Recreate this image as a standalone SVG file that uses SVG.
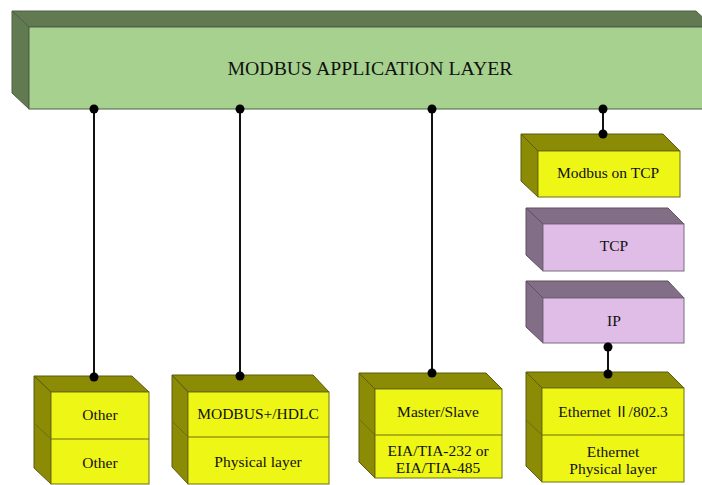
<svg xmlns="http://www.w3.org/2000/svg" width="702" height="485" viewBox="0 0 702 485">
  <style>
    .gf { fill: #a7d18e; stroke: #4f5f45; stroke-width: 1; }
    .gd { fill: #627a52; stroke: #4f5f45; stroke-width: 1; }
    .yf { fill: #eef615; stroke: #6f6f10; stroke-width: 1; }
    .yd { fill: #8b8b05; stroke: #5a5a10; stroke-width: 1; }
    .pf { fill: #dfbde6; stroke: #7a6a7e; stroke-width: 1; }
    .pd { fill: #836e87; stroke: #5e5061; stroke-width: 1; }
    .div { stroke: #6f6f10; stroke-width: 1; fill: none; }
    .lbl { font-family: "Liberation Serif", "Times New Roman", serif; font-size: 15.5px; fill: #111; text-anchor: middle; }
    .ttl { font-family: "Liberation Serif", "Times New Roman", serif; font-size: 18.5px; fill: #111; text-anchor: middle; }
    .cjk { font-family: "Noto Sans CJK SC", sans-serif; font-size: 14px; }
    .wire { stroke: #111; stroke-width: 2; fill: none; }
    .dot { fill: #000; }
  </style>
  <rect width="702" height="485" fill="#ffffff"/>

  <!-- application layer slab -->
  <g id="app-layer">
    <polygon class="gd" points="12,11 696,11 713,27 29,27"/>
    <polygon class="gd" points="12,11 29,27 29,109 12,93"/>
    <rect class="gf" x="29" y="27" width="684" height="82"/>
    <text class="ttl" x="370" y="75" textLength="285" lengthAdjust="spacingAndGlyphs">MODBUS APPLICATION LAYER</text>
  </g>

  <!-- Other / Other -->
  <g id="other-stack">
    <polygon class="yd" points="34,376 132,376 149,392 51,392"/>
    <polygon class="yd" points="34,376 51,392 51,484 34,468"/>
    <rect class="yf" x="51" y="392" width="98" height="92"/>
    <line class="div" x1="51" y1="439" x2="149" y2="439"/>
    <line class="div" x1="34" y1="423" x2="51" y2="439"/>
    <text class="lbl" x="100" y="420">Other</text>
    <text class="lbl" x="100" y="468">Other</text>
  </g>

  <!-- MODBUS+ / HDLC -->
  <g id="hdlc-stack">
    <polygon class="yd" points="172,375 313,375 329,392 188,392"/>
    <polygon class="yd" points="172,375 188,392 188,484 172,467"/>
    <rect class="yf" x="188" y="392" width="141" height="92"/>
    <line class="div" x1="188" y1="437" x2="329" y2="437"/>
    <line class="div" x1="172" y1="421" x2="188" y2="437"/>
    <text class="lbl" x="258" y="419">MODBUS+/HDLC</text>
    <text class="lbl" x="258" y="467">Physical layer</text>
  </g>

  <!-- Master/Slave serial -->
  <g id="serial-stack">
    <polygon class="yd" points="359,373 486,373 502,389 375,389"/>
    <polygon class="yd" points="359,373 375,389 375,478 359,462"/>
    <rect class="yf" x="375" y="389" width="127" height="89"/>
    <line class="div" x1="375" y1="435" x2="502" y2="435"/>
    <line class="div" x1="359" y1="419" x2="375" y2="435"/>
    <text class="lbl" x="438" y="417">Master/Slave</text>
    <text class="lbl" x="438" y="456">EIA/TIA-232 or</text>
    <text class="lbl" x="438" y="473">EIA/TIA-485</text>
  </g>

  <!-- Modbus on TCP -->
  <g id="modbus-tcp">
    <polygon class="yd" points="521,134 663,134 680,151 538,151"/>
    <polygon class="yd" points="521,134 538,151 538,197 521,181"/>
    <rect class="yf" x="538" y="151" width="142" height="46"/>
    <text class="lbl" x="608" y="178">Modbus on TCP</text>
  </g>

  <!-- TCP -->
  <g id="tcp">
    <polygon class="pd" points="526,208 668,208 684,224 543,224"/>
    <polygon class="pd" points="526,208 543,224 543,271 526,255"/>
    <rect class="pf" x="543" y="224" width="141" height="47"/>
    <text class="lbl" x="614" y="251">TCP</text>
  </g>

  <!-- IP -->
  <g id="ip">
    <polygon class="pd" points="526,281 668,281 684,298 543,298"/>
    <polygon class="pd" points="526,281 543,298 543,343 526,327"/>
    <rect class="pf" x="543" y="298" width="141" height="45"/>
    <text class="lbl" x="614" y="326">IP</text>
  </g>

  <!-- Ethernet -->
  <g id="ethernet-stack">
    <polygon class="yd" points="526,372 668,372 684,388 542,388"/>
    <polygon class="yd" points="526,372 542,388 542,482 526,466"/>
    <rect class="yf" x="542" y="388" width="142" height="94"/>
    <line class="div" x1="542" y1="435" x2="684" y2="435"/>
    <line class="div" x1="526" y1="420" x2="542" y2="435"/>
    <text class="lbl" x="613" y="417">Ethernet <tspan class="cjk">Ⅱ</tspan>/802.3</text>
    <text class="lbl" x="613" y="457">Ethernet</text>
    <text class="lbl" x="613" y="474">Physical layer</text>
  </g>

  <!-- links between layers -->
  <g id="connectors">
    <line class="wire" x1="94" y1="109" x2="94" y2="377"/>
    <circle class="dot" cx="94" cy="109" r="4.5"/>
    <circle class="dot" cx="94" cy="377" r="4.5"/>
    <line class="wire" x1="240" y1="109" x2="240" y2="376"/>
    <circle class="dot" cx="240" cy="109" r="4.5"/>
    <circle class="dot" cx="240" cy="376" r="4.5"/>
    <line class="wire" x1="432" y1="109" x2="432" y2="373"/>
    <circle class="dot" cx="432" cy="109" r="4.5"/>
    <circle class="dot" cx="432" cy="373" r="4.5"/>
    <line class="wire" x1="603" y1="109" x2="603" y2="134"/>
    <circle class="dot" cx="603" cy="109" r="4.5"/>
    <circle class="dot" cx="603" cy="134" r="4.5"/>
    <line class="wire" x1="608" y1="347" x2="608" y2="374"/>
    <circle class="dot" cx="608" cy="347" r="4.5"/>
    <circle class="dot" cx="608" cy="374" r="4.5"/>
  </g>
</svg>
